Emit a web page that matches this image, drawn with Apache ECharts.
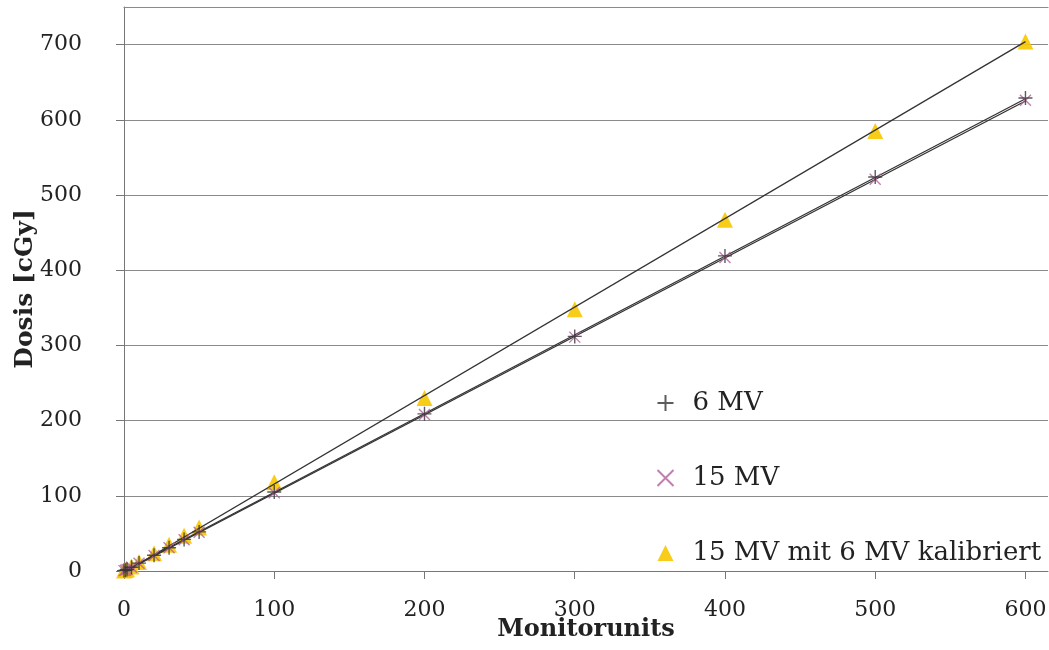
<!DOCTYPE html>
<html><head><meta charset="utf-8">
<script src="https://cdn.jsdelivr.net/npm/echarts@6/dist/echarts.min.js"></script>
<style>html,body{margin:0;padding:0;background:#fff}#c{width:1049px;height:650px}</style>
</head><body><div id="c"></div>
<script>
const monitorUnits = [0, 1, 2, 5, 10, 20, 30, 40, 50, 100, 200, 300, 400, 500, 600];
const dose6MV      = [0.5, 1, 2, 5, 10.5, 21, 31, 42, 52, 105, 209, 312, 419, 524, 629];
const dose15MV     = [0.5, 1, 2, 5, 10.3, 20.6, 31, 41.5, 51.5, 104, 208, 311, 417, 521, 626];
const dose15MVcal  = [0.5, 1.2, 2.4, 6, 12, 23.5, 35, 47, 58, 118, 230, 348, 467, 585, 704];
const trendMU      = [0, 600];
const trend6MV     = [0, 628];
const trend15MV    = [-1, 625];
const trend15MVcal = [-2, 704];
const xTicks = [0, 100, 200, 300, 400, 500, 600];
const yTicks = [0, 100, 200, 300, 400, 500, 600, 700];

const zip = (xs, ys) => xs.map((x, i) => [x, ys[i]]);
const font = 'DejaVu Serif';
const plus = 'path://M5,0 L5,10 M0,5 L10,5';
const cross = 'path://M0,0 L10,10 M10,0 L0,10';

const chart = echarts.init(document.getElementById('c'), null, {renderer: 'canvas'});
chart.setOption({
  animation: false,
  backgroundColor: '#fff',
  grid: {left: 124, right: 1, top: 7, bottom: 79, outerBoundsMode: 'none', containLabel: false},
  legend: {
    orient: 'vertical', left: 650, top: 385, itemGap: 49, itemWidth: 16, itemHeight: 16,
    textStyle: {fontFamily: font, fontSize: 26, lineHeight: 26, color: '#222', padding: [0, 0, 0, 14]},
    data: ['6 MV', '15 MV', '15 MV mit 6 MV kalibriert']
  },
  xAxis: [{
    type: 'value', min: 0, max: 615, interval: 100,
    name: 'Monitorunits', nameLocation: 'middle', nameGap: 47, nameMoveOverlap: false,
    nameTextStyle: {fontFamily: font, fontSize: 24, fontWeight: 'bold', color: '#222'},
    axisLine: {show: true, lineStyle: {color: '#777'}},
    axisTick: {show: true, length: 8, lineStyle: {color: '#777'}},
    axisLabel: {fontFamily: font, fontSize: 22, color: '#222', margin: 28, showMaxLabel: false,
      formatter: v => xTicks.includes(v) ? String(v) : ''},
    splitLine: {show: false}
  }, {
    type: 'value', position: 'top', min: 0, max: 615,
    axisLine: {show: true, onZero: false, lineStyle: {color: '#8a8a8a', width: 1.2}},
    axisTick: {show: false}, axisLabel: {show: false}, splitLine: {show: false}
  }],
  yAxis: {
    type: 'value', min: 0, max: 750, interval: 100,
    name: 'Dosis [cGy]', nameLocation: 'middle', nameGap: 86, nameRotate: 90, nameMoveOverlap: false,
    nameTextStyle: {fontFamily: font, fontSize: 25, fontWeight: 'bold', color: '#222'},
    axisLine: {show: true, lineStyle: {color: '#777'}},
    axisTick: {show: true, length: 8, lineStyle: {color: '#777'}},
    axisLabel: {fontFamily: font, fontSize: 22, color: '#222', margin: 42, showMaxLabel: false,
      formatter: v => yTicks.includes(v) ? String(v) : ''},
    splitLine: {show: true, lineStyle: {color: '#8a8a8a', width: 1.2}}
  },
  series: [
    {name: 'trend15cal', type: 'line', data: zip(trendMU, trend15MVcal), symbol: 'none',
      lineStyle: {color: '#333', width: 1.3}, silent: true, z: 3},
    {name: 'trend6', type: 'line', data: zip(trendMU, trend6MV), symbol: 'none',
      lineStyle: {color: '#333', width: 1.3}, silent: true, z: 3},
    {name: 'trend15', type: 'line', data: zip(trendMU, trend15MV), symbol: 'none',
      lineStyle: {color: '#333', width: 1.3}, silent: true, z: 3},
    {name: '15 MV mit 6 MV kalibriert', type: 'scatter', data: zip(monitorUnits, dose15MVcal),
      symbol: 'triangle', symbolSize: 16, itemStyle: {color: '#f7c800', opacity: 0.9}, z: 2},
    {name: '15 MV', type: 'scatter', data: zip(monitorUnits, dose15MV),
      symbol: cross, symbolSize: 11, itemStyle: {color: 'none', borderColor: '#b0609a', borderWidth: 1.4}, z: 4},
    {name: '6 MV', type: 'scatter', data: zip(monitorUnits, dose6MV),
      symbol: plus, symbolSize: 14, itemStyle: {color: 'none', borderColor: '#333', borderWidth: 1.4}, z: 5}
  ]
});
</script></body></html>
